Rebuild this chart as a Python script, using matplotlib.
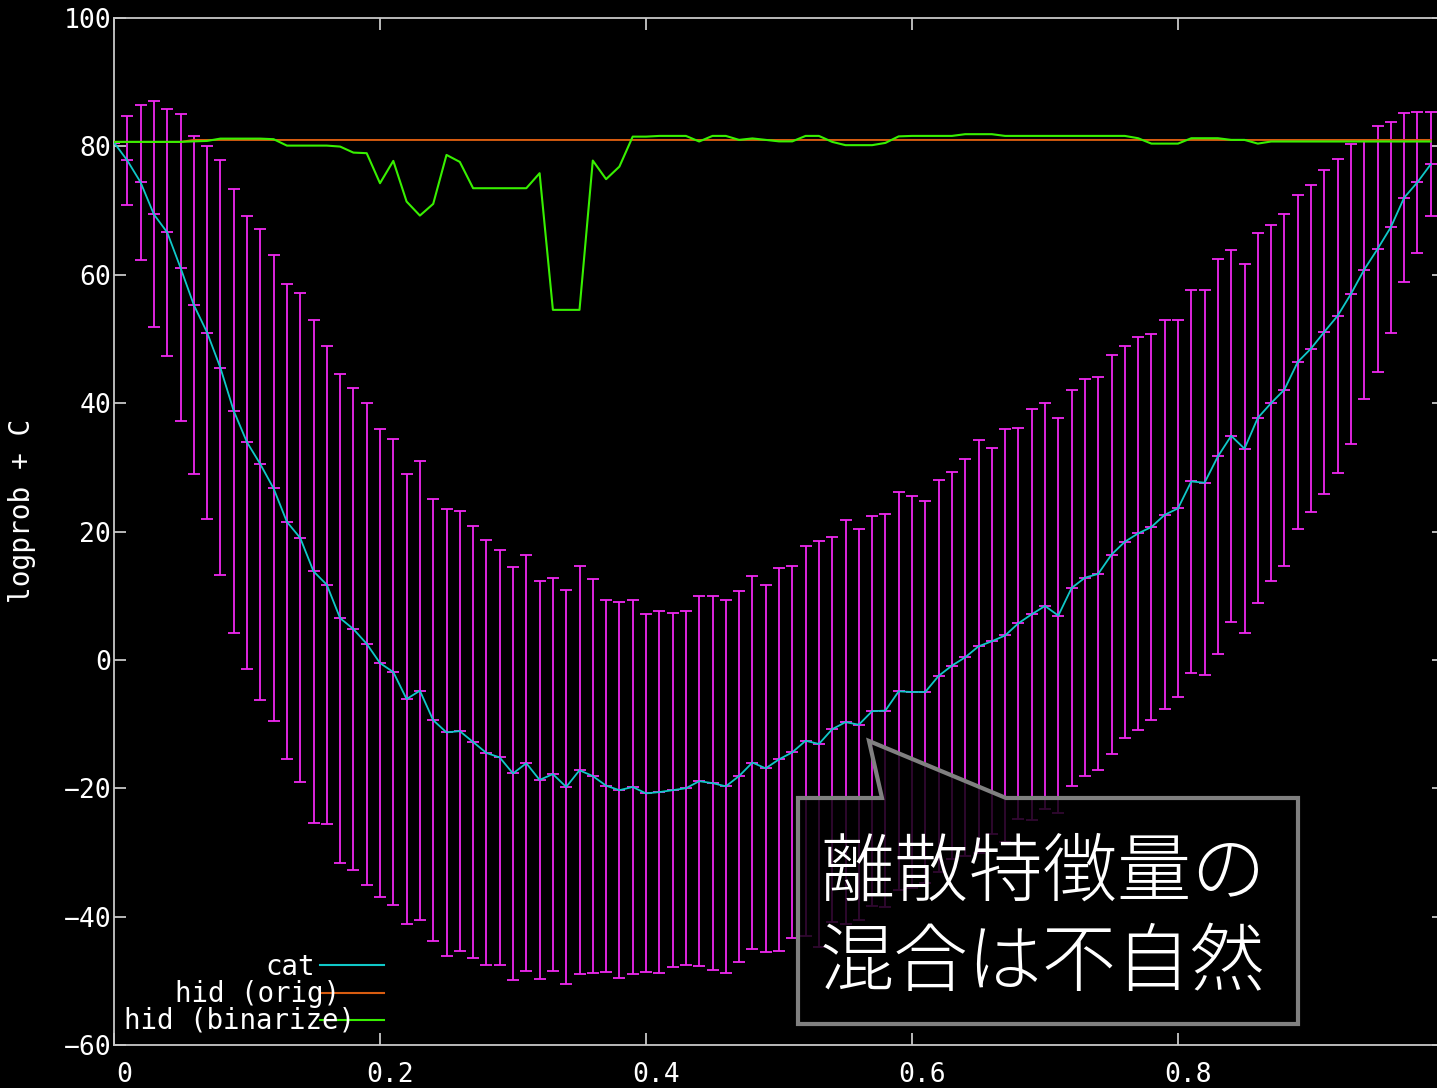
import numpy as np
import matplotlib
matplotlib.use("Agg")
import matplotlib.pyplot as plt
from matplotlib.patches import Polygon
from matplotlib.lines import Line2D
from matplotlib.transforms import ScaledTranslation

# ---------------- data ----------------
x = np.linspace(0.0, 0.99, 100)

cat = [80.6, 77.8, 74.4, 69.4, 66.6, 61.1, 55.3, 51.0, 45.5, 38.8,
       33.9, 30.5, 26.7, 21.5, 19.0, 13.8, 11.7, 6.5, 4.8, 2.5,
       -0.5, -1.9, -6.1, -4.8, -9.4, -11.3, -11.1, -12.8, -14.5, -15.2,
       -17.7, -16.1, -18.7, -17.8, -19.8, -17.2, -18.1, -19.6, -20.3, -19.8,
       -20.8, -20.6, -20.3, -20.0, -18.9, -19.2, -19.7, -18.1, -16.0, -16.9,
       -15.5, -14.4, -12.6, -13.1, -10.8, -9.7, -10.1, -8.0, -7.9, -4.9,
       -5.0, -5.0, -2.5, -0.9, 0.4, 2.1, 2.9, 3.8, 5.7, 7.1,
       8.4, 6.9, 11.2, 12.8, 13.4, 16.4, 18.4, 19.7, 20.7, 22.6,
       23.6, 27.8, 27.6, 31.7, 34.9, 32.9, 37.7, 40.0, 42.1, 46.4,
       48.5, 51.1, 53.6, 57.0, 60.8, 64.0, 67.4, 72.0, 74.4, 77.2]

cat_err = [0.0, 7.0, 12.1, 17.6, 19.3, 23.9, 26.3, 29.1, 32.3, 34.6,
           35.3, 36.7, 36.3, 37.0, 38.1, 39.2, 37.2, 38.1, 37.5, 37.5,
           36.5, 36.3, 35.1, 35.8, 34.4, 34.8, 34.3, 33.7, 33.1, 32.3,
           32.2, 32.4, 31.0, 30.6, 30.7, 31.8, 30.7, 29.0, 29.3, 29.2,
           27.9, 28.2, 27.6, 27.6, 28.8, 29.1, 29.1, 28.9, 29.1, 28.6,
           29.8, 29.0, 30.4, 31.6, 30.0, 31.5, 30.5, 30.4, 30.6, 31.0,
           30.6, 29.8, 30.6, 30.2, 30.9, 32.2, 30.1, 32.1, 30.5, 32.0,
           31.6, 30.8, 30.8, 30.9, 30.6, 31.1, 30.5, 30.6, 30.0, 30.3,
           29.4, 29.8, 30.0, 30.8, 29.0, 28.7, 28.8, 27.7, 27.4, 26.0,
           25.5, 25.2, 24.5, 23.4, 20.1, 19.1, 16.4, 13.2, 11.0, 8.1]

hid_orig = [80.70, 80.70, 80.70, 80.70, 80.70, 80.70, 81.0, 81.0, 81.0, 81.0,
            81.0, 81.0, 81.0, 81.0, 81.0, 81.0, 81.0, 81.0, 81.0, 81.0,
            81.0, 81.0, 81.0, 81.0, 81.0, 81.0, 81.0, 81.0, 81.0, 81.0,
            81.0, 81.0, 81.0, 81.0, 81.0, 81.0, 81.0, 81.0, 81.0, 81.0,
            81.0, 81.0, 81.0, 81.0, 81.0, 81.0, 81.0, 81.0, 81.0, 81.0,
            81.0, 81.0, 81.0, 81.0, 81.0, 81.0, 81.0, 81.0, 81.0, 81.0,
            81.0, 81.0, 81.0, 81.0, 81.0, 81.0, 81.0, 81.0, 81.0, 81.0,
            81.0, 81.0, 81.0, 81.0, 81.0, 81.0, 81.0, 81.0, 81.0, 81.0,
            81.0, 81.0, 81.0, 81.0, 81.0, 81.0, 81.0, 81.0, 81.0, 81.0,
            81.0, 81.0, 81.0, 81.0, 81.0, 81.0, 81.0, 81.0, 81.0, 81.0]

hid_bin = [80.70, 80.70, 80.70, 80.70, 80.70, 80.70, 80.78, 80.85, 81.21, 81.21,
           81.21, 81.21, 81.12, 80.12, 80.12, 80.12, 80.12, 79.97, 79.03, 78.94,
           74.26, 77.74, 71.40, 69.22, 71.04, 78.67, 77.58, 73.48, 73.48, 73.48,
           73.48, 73.48, 75.82, 54.53, 54.53, 54.53, 77.79, 74.89, 76.85, 81.52,
           81.52, 81.63, 81.63, 81.63, 80.76, 81.63, 81.63, 81.01, 81.24, 81.01,
           80.78, 80.78, 81.63, 81.63, 80.70, 80.19, 80.19, 80.19, 80.54, 81.56,
           81.63, 81.63, 81.63, 81.63, 81.90, 81.90, 81.90, 81.63, 81.63, 81.63,
           81.63, 81.63, 81.63, 81.63, 81.63, 81.63, 81.63, 81.27, 80.43, 80.43,
           80.43, 81.27, 81.27, 81.27, 81.01, 81.01, 80.43, 80.76, 80.76, 80.76,
           80.76, 80.76, 80.76, 80.76, 80.76, 80.76, 80.76, 80.76, 80.76, 80.76]

series_labels = ["cat", "hid (orig)", "hid (binarize)"]
xticks = [0, 0.2, 0.4, 0.6, 0.8]
xticklabels = ["0", "0.2", "0.4", "0.6", "0.8"]
yticks = [-60, -40, -20, 0, 20, 40, 60, 80, 100]
ylabel = "logprob + C"
callout_lines = ["離散特徴量の", "混合は不自然"]

# ---------------- style ----------------
W, H = 1437, 1088
MAG = "#f028f0"
CYAN = "#10c8c8"
ORANGE = "#d85c10"
GREEN = "#38f000"
AXC = "#c8c8c8"
MONO = "DejaVu Sans Mono"
FS = 19

fig = plt.figure(figsize=(W / 100, H / 100), dpi=100, facecolor="black")
ax = fig.add_axes([114 / W, 1 - 1045 / H, 1330 / W, 1027 / H], facecolor="black")

ax.errorbar(x, cat, yerr=cat_err, fmt="_", color=MAG, ecolor=MAG,
            elinewidth=1.3, capsize=4.4, capthick=1.3,
            markersize=9, markeredgewidth=1.3, zorder=2)
ax.plot(x, cat, color=CYAN, lw=1.3, zorder=3)
ax.plot(x, hid_orig, color=ORANGE, lw=1.4, zorder=4)
ax.plot(x, hid_bin, color=GREEN, lw=1.5, zorder=5)

ax.set_xlim(0, 1)
ax.set_ylim(-60, 100)
ax.set_xticks(xticks)
ax.set_xticklabels(xticklabels)
ax.set_yticks(yticks)
for s in ax.spines.values():
    s.set_color(AXC)
    s.set_linewidth(1.3)
ax.tick_params(direction="in", length=8.6, width=1.3, color=AXC,
               top=True, right=True, labelcolor="white", labelsize=FS)
ax.tick_params(axis="y", pad=2)
ax.tick_params(axis="x", pad=12)
for lab in ax.get_xticklabels() + ax.get_yticklabels():
    lab.set_fontfamily(MONO)
for lab in ax.get_xticklabels():
    lab.set_transform(lab.get_transform() + ScaledTranslation(10 / 100, 0, fig.dpi_scale_trans))

fig.text(22 / W, 1 - 511 / H, ylabel, rotation=90, color="white",
         fontsize=20, family=MONO, ha="center", va="center")

# legend (gnuplot-style: right-justified text followed by sample line)
leg_text_right = [315, 340, 355]
leg_base = [975, 1002, 1029]
leg_line_y = [965, 992.7, 1020.3]
for lab, col, xr, yb, yl in zip(series_labels, [CYAN, ORANGE, GREEN],
                                 leg_text_right, leg_base, leg_line_y):
    fig.add_artist(Line2D([320 / W, 384 / W], [1 - yl / H, 1 - yl / H],
                          color=col, lw=1.5, transform=fig.transFigure, zorder=6))
    fig.text(xr / W, 1 - yb / H, lab, color="white", fontsize=19.8, family=MONO,
             ha="right", va="baseline", zorder=7)

# callout box
pts_px = [(798, 798), (882, 798), (869, 741), (1006, 798), (1298, 798),
          (1298, 1024), (798, 1024)]
pts = [(px / W, 1 - py / H) for px, py in pts_px]
fig.add_artist(Polygon(pts, closed=True, facecolor=(0, 0, 0, 0.8),
                       edgecolor="#808080", lw=3.0, joinstyle="miter",
                       transform=fig.transFigure, zorder=10))
for line, yb in zip(callout_lines, [895, 985]):
    fig.text(820 / W, 1 - yb / H, line, color="white", fontsize=53.5,
             family=["Noto Sans CJK JP", "DejaVu Sans"], fontweight="light",
             ha="left", va="baseline", zorder=11)

fig.savefig("out.png", dpi=100, facecolor="black")
